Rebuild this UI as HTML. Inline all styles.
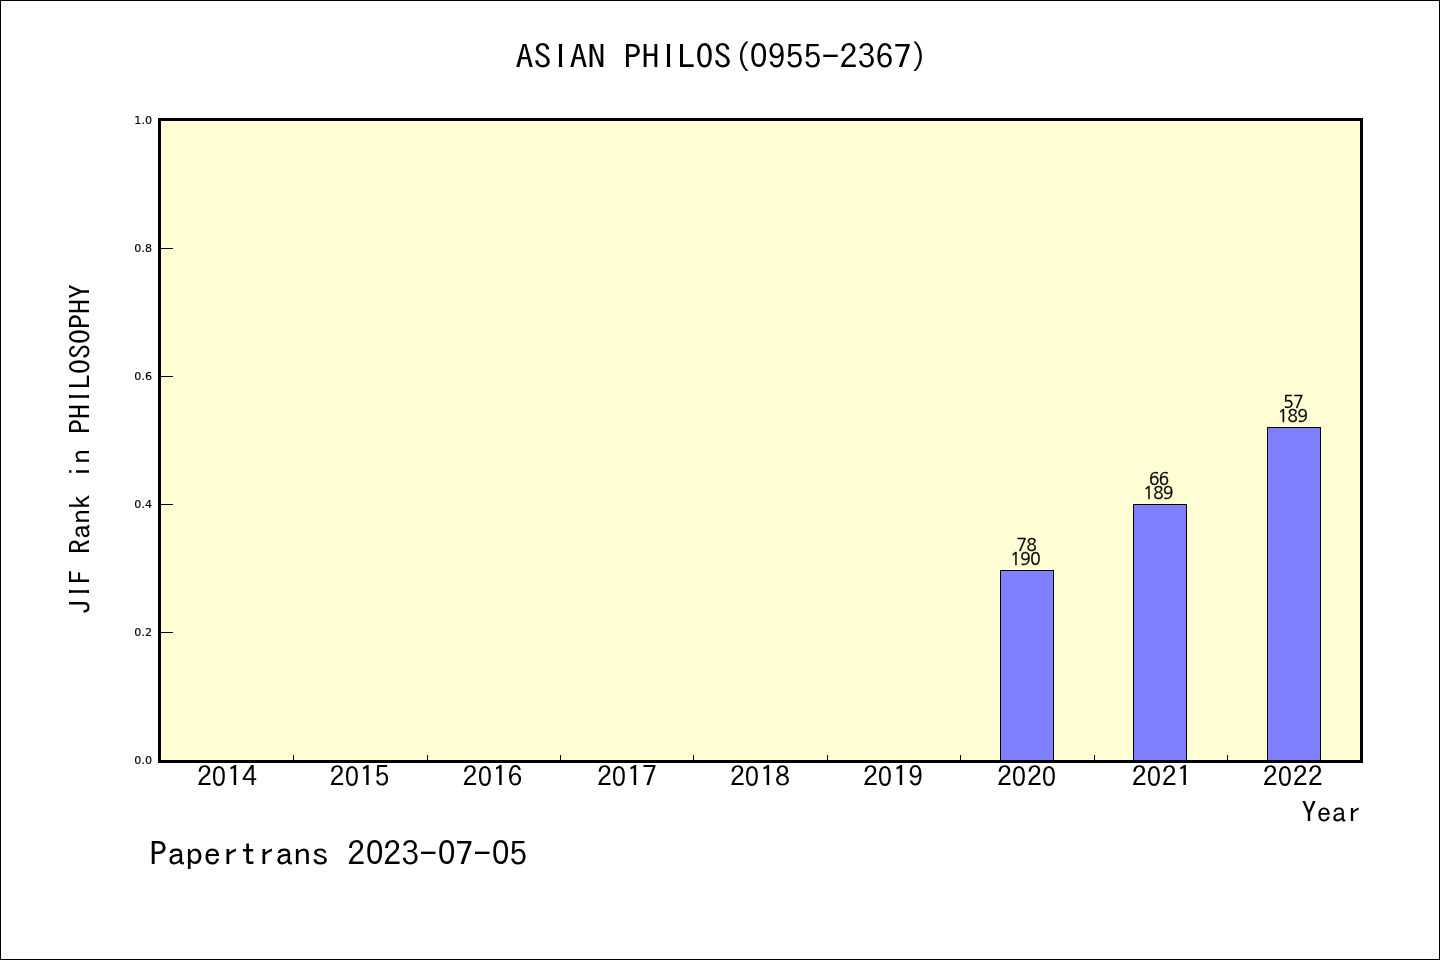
<!DOCTYPE html>
<html lang="en">
<head>
<meta charset="utf-8">
<title>ASIAN PHILOS(0955-2367)</title>
<style>
html,body{margin:0;padding:0;background:#fff;}
body{width:1440px;height:960px;position:relative;overflow:hidden;color:#000;}
#frame{position:absolute;left:0;top:0;width:1438px;height:958px;border:1px solid #000;}
#plot{position:absolute;left:158px;top:118px;width:1199px;height:639px;border:3px solid #000;background:#fffdd4;}
.yt{position:absolute;left:161px;width:12px;height:1px;background:#000;}
.xt{position:absolute;top:755px;width:1px;height:5px;background:#000;}
.yl{position:absolute;left:100px;width:52px;text-align:right;font:11.1px/12px "DejaVu Sans",sans-serif;white-space:nowrap;-webkit-text-stroke:.15px #000;}
.mono{font-family:"IPAGothic","Liberation Mono",monospace;white-space:nowrap;transform:scaleY(.935);transform-origin:0 0;}
.mono .z{font-family:"Liberation Sans",sans-serif;font-size:1.03em;display:inline-block;margin:0 -.0353em;transform:translate(.012em,-.045em) scaleX(.84);}
.xl .z{font-size:1.1em;margin:0 -.0507em;transform:translate(-.008em,.016em) scaleX(.755);}
.mono .pl{display:inline-block;transform:translateX(.05em) scaleX(.88);}
.mono .pr{display:inline-block;transform:translateX(-.06em) scaleX(.88);}
.mono .d{display:inline-block;transform:translateY(-.028em);}
.mono .I{display:inline-block;clip-path:inset(0 .203em 0 .203em);}
.xl{position:absolute;top:762.1px;width:60px;text-align:center;font-size:30px;line-height:30px;transform:scaleY(.915);}
.bar{position:absolute;box-sizing:border-box;border:1px solid #000;background:#8080ff;width:54px;}
.bl{position:absolute;width:80px;text-align:center;font:17px/14.2px "NanumGothic","Liberation Sans",sans-serif;letter-spacing:-.4px;-webkit-text-stroke:.4px #000;white-space:nowrap;}
#title{position:absolute;left:515.5px;top:39.2px;font-size:36px;line-height:36px;}
#year{position:absolute;left:1301.4px;top:797.9px;font-size:30px;line-height:30px;transform:scaleY(.908);}
#foot{position:absolute;left:149.2px;top:836.1px;font-size:36px;line-height:36px;}
#ylab{position:absolute;left:65.5px;top:614.2px;font-size:30px;line-height:30px;transform-origin:0 0;transform:rotate(-90deg) scaleY(.935);}
</style>
</head>
<body>
<div id="frame"></div>
<div id="title" class="mono">AS<span class="I">I</span>AN PH<span class="I">I</span>LOS<span class="pl">(</span><span class="z">0</span>955<span class="d">-</span>2367<span class="pr">)</span></div>
<div id="plot"></div>

<div class="yt" style="top:248px"></div>
<div class="yt" style="top:376px"></div>
<div class="yt" style="top:504px"></div>
<div class="yt" style="top:632px"></div>

<div class="yl" style="top:115px">1.0</div>
<div class="yl" style="top:243px">0.8</div>
<div class="yl" style="top:371px">0.6</div>
<div class="yl" style="top:499px">0.4</div>
<div class="yl" style="top:627px">0.2</div>
<div class="yl" style="top:755px">0.0</div>

<div class="xt" style="left:293px"></div>
<div class="xt" style="left:427px"></div>
<div class="xt" style="left:560px"></div>
<div class="xt" style="left:693px"></div>
<div class="xt" style="left:827px"></div>
<div class="xt" style="left:960px"></div>
<div class="xt" style="left:1094px"></div>
<div class="xt" style="left:1227px"></div>

<div class="xl mono" style="left:196.9px">2<span class="z">0</span>14</div>
<div class="xl mono" style="left:329.6px">2<span class="z">0</span>15</div>
<div class="xl mono" style="left:462.5px">2<span class="z">0</span>16</div>
<div class="xl mono" style="left:596.9px">2<span class="z">0</span>17</div>
<div class="xl mono" style="left:729.9px">2<span class="z">0</span>18</div>
<div class="xl mono" style="left:862.9px">2<span class="z">0</span>19</div>
<div class="xl mono" style="left:996.9px">2<span class="z">0</span>2<span class="z">0</span></div>
<div class="xl mono" style="left:1131.7px">2<span class="z">0</span>21</div>
<div class="xl mono" style="left:1262.7px">2<span class="z">0</span>22</div>

<div class="bar" style="left:1000px;top:570px;height:191px"></div>
<div class="bar" style="left:1133px;top:504px;height:257px"></div>
<div class="bar" style="left:1267px;top:427px;height:334px"></div>

<div class="bl" style="left:986.5px;top:537.9px">78<br><span style="position:relative;left:-1.3px">190</span></div>
<div class="bl" style="left:1118.8px;top:471.9px">66<br><span style="position:relative;left:-.7px">189</span></div>
<div class="bl" style="left:1253.2px;top:394.9px">57<br><span style="position:relative;left:-.7px">189</span></div>

<div id="year" class="mono">Year</div>
<div id="ylab" class="mono">J<span class="I">I</span>F Rank in PH<span class="I">I</span>LOSOPHY</div>
<div id="foot" class="mono">Papertrans 2<span class="z">0</span>23<span class="d">-</span><span class="z">0</span>7<span class="d">-</span><span class="z">0</span>5</div>
</body>
</html>
